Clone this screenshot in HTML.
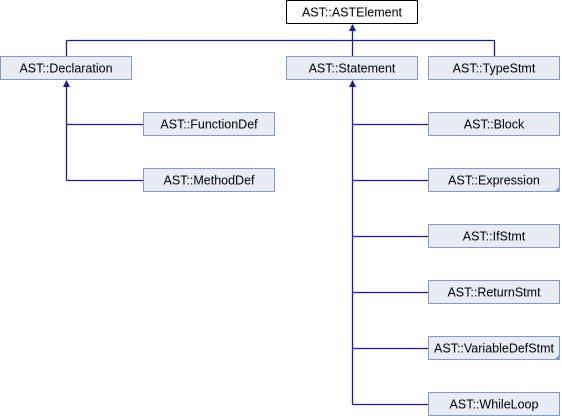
<!DOCTYPE html>
<html><head><meta charset="utf-8"><style>
html,body{margin:0;padding:0;background:#fff;}
svg{display:block;}
text{font-family:"Liberation Sans",Arial,sans-serif;font-size:12.5px;fill:#000;}
.b{fill:#e8ecf5;stroke:#8498cc;stroke-width:1;}
.l{stroke:#1a1aa3;stroke-width:1.3;fill:none;}
.a{fill:#1a1aa3;}
.c{fill:#8498cc;}
</style></head><body>
<svg width="562" height="416" viewBox="0 0 562 416" xmlns="http://www.w3.org/2000/svg">
<!-- connectors -->
<path class="l" d="M352.5 25 V40.5 M66.5 40.5 H494.5 M66.5 40.5 V57 M494.5 40.5 V57 M352.5 40.5 V57"/>
<path class="l" d="M66.5 86 V180.5 M66.5 124.5 H143 M66.5 180.5 H143"/>
<path class="l" d="M352.5 86 V404.5 M352.5 124.5 H428 M352.5 180.5 H428 M352.5 236.5 H428 M352.5 292.5 H428 M352.5 348.5 H428 M352.5 404.5 H428"/>
<polygon class="a" points="352.5,24 349,31 356,31"/>
<polygon class="a" points="66.5,80 63,87 70,87"/>
<polygon class="a" points="352.5,80 349,87 356,87"/>
<!-- boxes -->
<rect x="286.5" y="0.5" width="131" height="23" fill="#fff" stroke="#000"/>
<text x="352" y="16.5" text-anchor="middle">AST::ASTElement</text>

<rect class="b" x="0.5" y="56.5" width="131" height="23"/>
<text x="66" y="72.5" text-anchor="middle">AST::Declaration</text>
<rect class="b" x="286.5" y="56.5" width="131" height="23"/>
<text x="352" y="72.5" text-anchor="middle">AST::Statement</text>
<rect class="b" x="428.5" y="56.5" width="131" height="23"/>
<text x="494" y="72.5" text-anchor="middle">AST::TypeStmt</text>

<rect class="b" x="143.5" y="112.5" width="131" height="23"/>
<text x="209" y="128.5" text-anchor="middle">AST::FunctionDef</text>
<rect class="b" x="143.5" y="168.5" width="131" height="23"/>
<text x="209" y="184.5" text-anchor="middle">AST::MethodDef</text>

<rect class="b" x="428.5" y="112.5" width="131" height="23"/>
<text x="494" y="128.5" text-anchor="middle">AST::Block</text>
<rect class="b" x="428.5" y="168.5" width="131" height="23"/>
<text x="494" y="184.5" text-anchor="middle">AST::Expression</text>
<polygon class="c" points="560,186 560,192 554,192"/>
<rect class="b" x="428.5" y="224.5" width="131" height="23"/>
<text x="494" y="240.5" text-anchor="middle">AST::IfStmt</text>
<rect class="b" x="428.5" y="280.5" width="131" height="23"/>
<text x="494" y="296.5" text-anchor="middle">AST::ReturnStmt</text>
<rect class="b" x="428.5" y="336.5" width="131" height="23"/>
<text x="494" y="352.5" text-anchor="middle">AST::VariableDefStmt</text>
<polygon class="c" points="560,354 560,360 554,360"/>
<rect class="b" x="428.5" y="392.5" width="131" height="23"/>
<text x="494" y="408.5" text-anchor="middle">AST::WhileLoop</text>
</svg>
</body></html>
